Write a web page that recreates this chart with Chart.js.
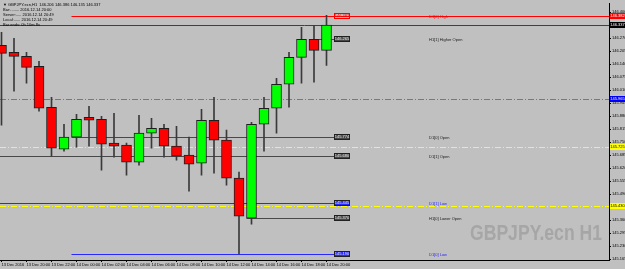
<!DOCTYPE html>
<html>
<head>
<meta charset="utf-8">
<script src="https://cdn.jsdelivr.net/npm/chart.js@4.4.0/dist/chart.umd.min.js"></script>
<style>
  html, body { margin: 0; padding: 0; background: #c0c0c0; }
</style>
</head>
<body>
<canvas id="candles" width="625" height="269"></canvas>
<script>
// GBPJPY.ecn H1, one bar per hour from 13 Dec 18:00 to 14 Dec 20:00
const opens  = [146.235, 146.200, 146.180, 146.130, 145.925, 145.715, 145.775, 145.875, 145.865, 145.745,
                145.735, 145.650, 145.795, 145.820, 145.730, 145.685, 145.645, 145.860, 145.760, 145.570,
                145.370, 145.840, 145.920, 146.040, 146.175, 146.265, 146.210];
const highs  = [146.300, 146.270, 146.200, 146.155, 145.975, 145.840, 145.890, 145.930, 145.880, 145.895,
                145.745, 145.885, 145.870, 145.840, 145.830, 145.775, 145.915, 145.975, 145.810, 145.600,
                145.850, 145.975, 146.070, 146.200, 146.325, 146.335, 146.385];
const lows   = [145.835, 146.005, 146.045, 145.905, 145.680, 145.705, 145.725, 145.730, 145.610, 145.675,
                145.585, 145.635, 145.720, 145.675, 145.660, 145.505, 145.585, 145.595, 145.535, 145.190,
                145.340, 145.705, 145.795, 145.925, 146.045, 146.050, 146.135];
const closes = [146.195, 146.180, 146.125, 145.920, 145.720, 145.775, 145.865, 145.860, 145.740, 145.730,
                145.650, 145.795, 145.820, 145.730, 145.680, 145.640, 145.860, 145.760, 145.570, 145.380,
                145.840, 145.920, 146.040, 146.175, 146.265, 146.210, 146.337];

const timeLabels = ['13 Dec 2016', '13 Dec 20:00', '13 Dec 22:00', '14 Dec 00:00', '14 Dec 02:00',
                    '14 Dec 04:00', '14 Dec 06:00', '14 Dec 08:00', '14 Dec 10:00', '14 Dec 12:00',
                    '14 Dec 14:00', '14 Dec 16:00', '14 Dec 18:00', '14 Dec 20:00'];
const timeLabelBars = [0, 2, 4, 6, 8, 10, 12, 14, 16, 18, 20, 22, 24, 26];

const priceTicks = [146.400, 146.335, 146.270, 146.205, 146.140, 146.075, 146.010, 145.945, 145.880, 145.815,
                    145.750, 145.685, 145.620, 145.555, 145.490, 145.425, 145.360, 145.295, 145.230, 145.165];

// indicator levels
const levelNames   = ['D1[0] High', 'H1[1] Higher Open', 'D1[0] Open', 'D1[1] Open', 'D1[1] Low', 'H1[0] Lower Open', 'D1[0] Low'];
const levelPrices  = [146.382, 146.265, 145.774, 145.680, 145.445, 145.370, 145.190];
const levelFromBar = [6, 25, 6, -1, -1, 20, 6];   // -1 = from left edge

const bidPrice = 146.337;
const pivotPrices = [145.965, 145.725, 145.430];  // dash-dot lines

const headerLines = [
  '\u25BC GBPJPY.ecn,H1  146.206 146.386 146.135 146.337',
  'Bar:........ 2016.12.14 20:00',
  'Server:..... 2016.12.14 20:49',
  'Local:...... 2016.12.14 20:49',
  'Bar ends: 0h 10m 8s'
];

const FONT = 'Liberation Sans';
const levelColors = ['#ff0000', '#484848', '#484848', '#484848', '#2828ff', '#484848', '#2828ff'];
const pivotColors = ['#6a6af0', '#ffff00', '#ffff00'];
const pivotAxisFill = ['#0000ff', '#ffff00', '#ffff00'];
const pivotAxisText = ['#ffffff', '#000000', '#000000'];

function hline(ctx, x0, x1, py) {
  ctx.beginPath();
  ctx.moveTo(x0, py);
  ctx.lineTo(x1, py);
  ctx.stroke();
}

function tag(ctx, x, py, w, text, fill, stroke, color) {
  const top = Math.round(py) - 3;
  if (fill) { ctx.fillStyle = fill; ctx.fillRect(x, top, w, 6); }
  if (stroke) { ctx.strokeStyle = stroke; ctx.lineWidth = 1; ctx.strokeRect(x + 0.5, top + 0.5, w - 1, 5); }
  ctx.fillStyle = color;
  ctx.font = '4px ' + FONT;
  ctx.textAlign = 'center';
  ctx.textBaseline = 'middle';
  ctx.fillText(text, x + w / 2, top + 3.2);
}

const overlay = {
  id: 'overlay',
  beforeDraw(chart) {
    const {ctx, width, height} = chart;
    ctx.save();
    ctx.fillStyle = '#c0c0c0';
    ctx.fillRect(0, 0, width, height);
    ctx.restore();
  },
  beforeDatasetsDraw(chart) {
    const {ctx, chartArea: a, scales: {x, y}} = chart;
    ctx.save();

    // watermark
    ctx.font = 'bold 22px ' + FONT;
    const wm = 'GBPJPY.ecn H1';
    const sx = 132 / ctx.measureText(wm).width;
    ctx.translate(602, 240);
    ctx.scale(sx, 1);
    ctx.fillStyle = '#a6a6a6';
    ctx.textAlign = 'right';
    ctx.textBaseline = 'alphabetic';
    ctx.fillText(wm, 0, 0);
    ctx.setTransform(1, 0, 0, 1, 0, 0);

    ctx.lineWidth = 1;
    pivotPrices.forEach((p, i) => {
      ctx.strokeStyle = pivotColors[i];
      ctx.setLineDash([6, 2, 1, 2]);
      hline(ctx, a.left, a.right, Math.round(y.getPixelForValue(p)) + 0.5);
    });
    ctx.setLineDash([]);

    ctx.strokeStyle = '#404040';
    hline(ctx, a.left, a.right, Math.round(y.getPixelForValue(bidPrice)) + 0.5);

    const boxX = Math.round(x.getPixelForValue(opens.length - 1)) + 7;
    levelPrices.forEach((p, i) => {
      const py = Math.round(y.getPixelForValue(p)) + 0.5;
      const x0 = levelFromBar[i] < 0 ? a.left : x.getPixelForValue(levelFromBar[i] - 0.4);
      const x1 = i === 0 ? a.right : boxX;
      ctx.strokeStyle = levelColors[i];
      hline(ctx, x0, x1, py);
    });
    ctx.restore();
  },
  afterDatasetsDraw(chart) {
    const {ctx, scales: {x, y}} = chart;
    ctx.save();
    const boxX = Math.round(x.getPixelForValue(opens.length - 1)) + 7;
    levelPrices.forEach((p, i) => {
      const py = y.getPixelForValue(p);
      const c = levelColors[i];
      if (i === 0) tag(ctx, boxX, py, 16, p.toFixed(3), null, c, c);
      else tag(ctx, boxX, py, 16, p.toFixed(3), c, '#202020', '#f0f0f0');
      ctx.fillStyle = c === '#484848' ? '#1a1a1a' : c;
      ctx.font = '4px ' + FONT;
      ctx.textAlign = 'left';
      ctx.textBaseline = 'middle';
      ctx.fillText(levelNames[i], boxX + 95, Math.round(py) + 0.7);
    });
    ctx.restore();
  },
  afterDraw(chart) {
    const {ctx, chartArea: a, scales: {y}} = chart;
    ctx.save();
    ctx.fillStyle = '#000';
    ctx.font = '4px ' + FONT;
    ctx.textAlign = 'left';
    ctx.textBaseline = 'middle';
    headerLines.forEach((t, i) => ctx.fillText(t, 3, 4.5 + i * 5));

    const ax = a.right + 1;
    tag(ctx, ax, y.getPixelForValue(levelPrices[0]), 15, levelPrices[0].toFixed(3), '#ff0000', null, '#ffffff');
    tag(ctx, ax, y.getPixelForValue(bidPrice), 15, bidPrice.toFixed(3), '#000000', null, '#ffffff');
    pivotPrices.forEach((p, i) => {
      tag(ctx, ax, y.getPixelForValue(p), 15, p.toFixed(3), pivotAxisFill[i], null, pivotAxisText[i]);
    });
    ctx.restore();
  }
};

const bodies = opens.map((o, i) => ({x: i, y: [o, closes[i]]}));
const wicks = lows.map((l, i) => ({x: i, y: [l, highs[i]]}));
const bodyColors = opens.map((o, i) => closes[i] >= o ? '#00ff00' : '#ff0000');

new Chart(document.getElementById('candles').getContext('2d'), {
  type: 'bar',
  data: {
    datasets: [{
      label: 'body',
      data: bodies,
      backgroundColor: bodyColors,
      borderColor: '#1e1e1e',
      borderWidth: 1,
      borderSkipped: false,
      barThickness: 10,
      grouped: false
    }, {
      label: 'wick',
      data: wicks,
      backgroundColor: '#3a3a3a',
      borderWidth: 0,
      barThickness: 1,
      grouped: false
    }]
  },
  options: {
    responsive: false,
    animation: false,
    layout: { padding: { top: 3, left: 0, right: 0, bottom: 0 } },
    plugins: {
      legend: { display: false },
      tooltip: { enabled: false }
    },
    scales: {
      x: {
        type: 'linear',
        min: -0.12,
        max: 48.6,
        offset: false,
        grid: { display: true, drawOnChartArea: false, drawTicks: true, tickLength: 2, color: '#000', offset: false },
        border: { display: true, color: '#000' },
        ticks: {
          autoSkip: false,
          maxRotation: 0,
          align: 'start',
          padding: 0,
          color: '#000',
          font: { family: FONT, size: 4 },
          callback: (v, i) => timeLabels[i]
        },
        afterBuildTicks: axis => { axis.ticks = timeLabelBars.map(v => ({value: v})); },
        afterFit: axis => { axis.height = 9; }
      },
      y: {
        position: 'right',
        min: 145.16,
        max: 146.445,
        grid: { display: true, drawOnChartArea: false, drawTicks: true, tickLength: 2, color: '#000' },
        border: { display: true, color: '#000' },
        ticks: {
          padding: 1,
          color: '#000',
          font: { family: FONT, size: 4 },
          callback: v => v.toFixed(3)
        },
        afterBuildTicks: axis => { axis.ticks = priceTicks.map(v => ({value: v})); },
        afterFit: axis => { axis.width = 16; }
      }
    }
  },
  plugins: [overlay]
});
</script>
</body>
</html>
